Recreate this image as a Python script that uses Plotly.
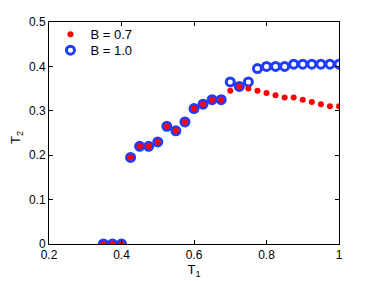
import plotly.graph_objects as go

t1 = [0.35, 0.375, 0.4, 0.425, 0.45, 0.475, 0.5, 0.525, 0.55, 0.575, 0.6, 0.625, 0.65, 0.675,
      0.7, 0.725, 0.75, 0.775, 0.8, 0.825, 0.85, 0.875, 0.9, 0.925, 0.95, 0.975, 1.0]
t2_b07 = [0, 0, 0, 0.195, 0.22, 0.22, 0.23, 0.265, 0.255, 0.275, 0.305, 0.315, 0.325, 0.325,
          0.345, 0.355, 0.35, 0.345, 0.34, 0.335, 0.33, 0.33, 0.325, 0.32, 0.315, 0.31, 0.31]
t2_b10 = [0, 0, 0, 0.195, 0.22, 0.22, 0.23, 0.265, 0.255, 0.275, 0.305, 0.315, 0.325, 0.325,
          0.365, 0.355, 0.365, 0.395, 0.4, 0.4, 0.4, 0.405, 0.405, 0.405, 0.405, 0.405, 0.405]

fig = go.Figure()
fig.add_trace(go.Scatter(x=t1, y=t2_b10, mode="markers", name="B = 1.0", legend="legend2",
                         marker=dict(symbol="circle-open", size=8, color="#1f3cff",
                                     line=dict(width=3, color="#1f3cff"))))
fig.add_trace(go.Scatter(x=t1, y=t2_b07, mode="markers", name="B = 0.7", legend="legend",
                         marker=dict(symbol="circle", size=6, color="#ff0000")))

font = dict(family="Liberation Sans, Arial, sans-serif", size=12, color="black")
axis_common = dict(showgrid=False, zeroline=False, showline=True, linecolor="black", linewidth=1,
                   mirror="ticks", ticks="inside", ticklen=4, tickcolor="black", tickfont=font,
                   automargin=False)
legend_common = dict(x=0.005, xanchor="left", yanchor="top", bgcolor="rgba(0,0,0,0)",
                     font=dict(size=13), itemwidth=30)

fig.update_layout(
    width=366, height=273,
    margin=dict(l=41, r=35, t=13, b=37),
    paper_bgcolor="white", plot_bgcolor="white",
    font=font,
    showlegend=True,
    legend=dict(y=1.008, **legend_common),
    legend2=dict(y=0.936, **legend_common),
    xaxis=dict(range=[0.2, 1.0], tickvals=[0.2, 0.4, 0.6, 0.8, 1.0],
               ticktext=["0.2", "0.4", "0.6", "0.8", "1"],
               title=dict(text="T<sub>1</sub>", standoff=2, font=dict(size=13)), **axis_common),
    yaxis=dict(range=[0, 0.5], tickvals=[0, 0.1, 0.2, 0.3, 0.4, 0.5],
               ticktext=["0", "0.1", "0.2", "0.3", "0.4", "0.5"], **axis_common),
    annotations=[dict(text="T<sub>2</sub>", xref="paper", yref="paper", x=-0.112, y=0.48,
                      xanchor="center", yanchor="middle", textangle=-90, showarrow=False,
                      font=dict(size=13))],
)

fig.write_html("out.html")
